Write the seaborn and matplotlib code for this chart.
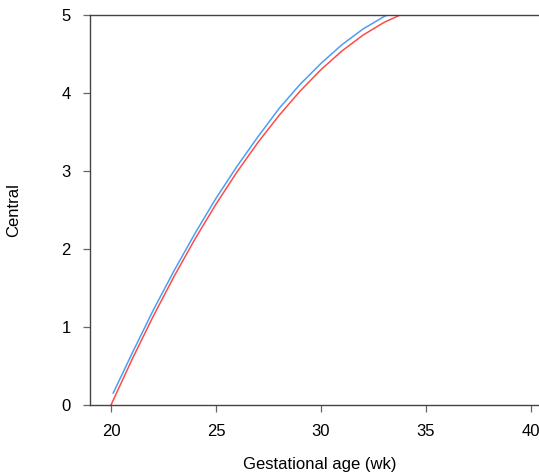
import matplotlib
matplotlib.use("Agg")
import matplotlib.pyplot as plt
import seaborn as sns
import pandas as pd

# Data
weeks_red = [20, 21, 22, 23, 24, 25, 26, 27, 28, 29, 30, 31, 32, 33, 34, 35]
central_red = [0.0, 0.583, 1.132, 1.647, 2.128, 2.575, 2.988, 3.367, 3.712,
               4.023, 4.30, 4.54, 4.742, 4.905, 5.028, 5.11]
weeks_blue = [20.1, 21, 22, 23, 24, 25, 26, 27, 28, 29, 30, 31, 32, 33, 34, 35]
central_blue = [0.15, 0.66, 1.21, 1.72, 2.20, 2.65, 3.06, 3.44, 3.80, 4.11,
                4.38, 4.62, 4.82, 4.98, 5.10, 5.18]
x_ticks = [20, 25, 30, 35, 40]
y_ticks = [0, 1, 2, 3, 4, 5]

red_df = pd.DataFrame({"week": weeks_red, "central": central_red})
blue_df = pd.DataFrame({"week": weeks_blue, "central": central_blue})

sns.set_theme(style="white")
plt.rcParams['font.family'] = ['Liberation Sans', 'DejaVu Sans']

W, H = 539, 474
fig = plt.figure(figsize=(W / 100, H / 100), dpi=100)
ax = fig.add_axes([90 / W, 1 - 405 / H, 460 / W, 390 / H])

sns.lineplot(data=red_df, x="week", y="central", ax=ax, color="#FF4A4A",
             linewidth=1.1, sort=False)
sns.lineplot(data=blue_df, x="week", y="central", ax=ax, color="#4A9FF5",
             linewidth=1.1, sort=False)

ax.set_xlim(19, 19 + 460 / 21)
ax.set_ylim(0, 5)
ax.set_xticks(x_ticks)
ax.set_yticks(y_ticks)
ax.set_xticklabels([str(t) for t in x_ticks])
ax.set_yticklabels([str(t) for t in y_ticks])

for s in ax.spines.values():
    s.set_visible(True)
    s.set_color("#444444")
    s.set_linewidth(1.0)

ax.tick_params(axis="both", direction="out", length=5, width=0.9,
               color="#666666", labelsize=12, labelcolor="black", pad=9,
               bottom=True, left=True)

ax.set_xlabel("Gestational age (wk)", fontsize=12, color="black", labelpad=13)
ax.set_ylabel("Central", fontsize=12, color="black", labelpad=29)
ax.grid(False)

fig.savefig("out.png", dpi=100)
